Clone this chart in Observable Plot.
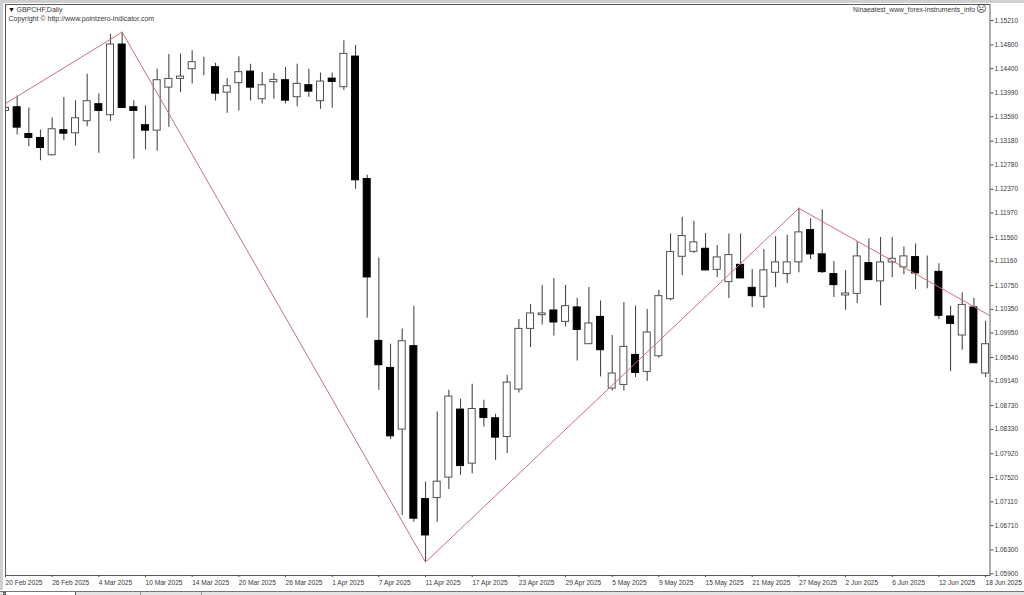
<!DOCTYPE html>
<html><head><meta charset="utf-8">
<script src="https://cdn.jsdelivr.net/npm/d3@7"></script>
<script src="https://cdn.jsdelivr.net/npm/@observablehq/plot@0.6"></script>
<style>
html,body{margin:0;padding:0;background:#fff;overflow:hidden}
#wrap{position:relative;width:1024px;height:595px}
svg{display:block;background:transparent}
.c{position:absolute}
</style></head><body><div id="wrap">
<div class="c" style="left:0;top:0;width:1024px;height:3px;background:#cfcfcf"></div>
<div class="c" style="left:0;top:0;width:3px;height:590px;background:#cfcfcf"></div>
<div class="c" style="left:0;top:591px;width:1024px;height:4px;background:#e4e4e4"></div>
<div class="c" style="left:0;top:591px;width:1024px;height:1px;background:#777"></div>
<div class="c" style="left:3px;top:592px;width:72px;height:3px;background:#fff"></div>
<div class="c" style="left:3px;top:592px;width:3px;height:3px;border:1px solid #555;box-sizing:border-box"></div>
<div class="c" style="left:75px;top:592px;width:1px;height:3px;background:#555"></div>
<div class="c" style="left:140px;top:592px;width:1px;height:3px;background:#999"></div>
<div class="c" style="left:201px;top:592px;width:1px;height:3px;background:#999"></div>
</div>
<script>
const symbol = "GBPCHF,Daily";
const copyright = "Copyright © http://www.pointzero-indicator.com";
const account = "Ninaeatest_www_forex-instruments_info";
const priceTicks = [1.15210,1.14800,1.14400,1.13990,1.13590,1.13180,1.12780,1.12370,1.11970,1.11560,1.11160,1.10750,1.10350,1.09950,1.09540,1.09140,1.08730,1.08330,1.07920,1.07520,1.07110,1.06710,1.06300,1.05900];
const dateLabels = ["20 Feb 2025","26 Feb 2025","4 Mar 2025","10 Mar 2025","14 Mar 2025","20 Mar 2025","26 Mar 2025","1 Apr 2025","7 Apr 2025","11 Apr 2025","17 Apr 2025","23 Apr 2025","29 Apr 2025","5 May 2025","9 May 2025","15 May 2025","21 May 2025","27 May 2025","2 Jun 2025","6 Jun 2025","12 Jun 2025","18 Jun 2025"];
const open = [1.13689,1.13751,1.13301,1.13234,1.12943,1.13364,1.13313,1.13515,1.13802,1.13616,1.14806,1.13751,1.13448,1.13357,1.14081,1.14228,1.14391,1.14413,1.14425,1.13997,1.14156,1.14351,1.13886,1.14172,1.14206,1.13920,1.14122,1.13852,1.14233,1.14088,1.14604,1.12543,1.09819,1.09364,1.08326,1.09730,1.07157,1.07174,1.07518,1.08663,1.07753,1.08673,1.08517,1.08202,1.09000,1.10021,1.10252,1.10331,1.10139,1.10382,1.09763,1.10223,1.09017,1.09078,1.09583,1.09297,1.09561,1.10521,1.11234,1.11318,1.11369,1.11015,1.10808,1.11099,1.10712,1.10560,1.10965,1.10943,1.11140,1.11684,1.11275,1.10943,1.10584,1.10611,1.11128,1.10820,1.11140,1.11056,1.11229,1.10981,1.10981,1.10230,1.09910,1.10382,1.09270];
const close = [1.13739,1.13408,1.13234,1.13065,1.13381,1.13306,1.13566,1.13852,1.13689,1.14806,1.13739,1.13689,1.13357,1.14206,1.14228,1.14267,1.14509,1.14413,1.13980,1.14105,1.14341,1.14081,1.14122,1.14211,1.13862,1.14144,1.14014,1.14183,1.14177,1.14649,1.12521,1.10887,1.09409,1.08213,1.09814,1.06827,1.06545,1.07450,1.08882,1.07713,1.08673,1.08522,1.08191,1.09118,1.10021,1.10281,1.10281,1.10129,1.10404,1.10004,1.10112,1.09662,1.09270,1.09718,1.09280,1.09960,1.10572,1.11313,1.11583,1.11477,1.11005,1.11224,1.11263,1.10870,1.10572,1.11005,1.11140,1.11140,1.11645,1.11275,1.10976,1.10757,1.10617,1.11241,1.10842,1.11140,1.11200,1.11241,1.10954,1.10981,1.10240,1.10105,1.10425,1.09443,1.09763];
const high = [1.13908,1.13942,1.13739,1.13369,1.13571,1.13913,1.13862,1.14307,1.13975,1.14981,1.15015,1.13862,1.13778,1.14391,1.14637,1.14649,1.14700,1.14594,1.14493,1.14233,1.14599,1.14476,1.14334,1.14317,1.14418,1.14476,1.14391,1.14329,1.14329,1.14868,1.14789,1.12606,1.11212,1.09763,1.10021,1.10404,1.07443,1.08623,1.08988,1.08837,1.09089,1.08820,1.08584,1.09236,1.10179,1.10432,1.10752,1.10870,1.10752,1.10538,1.10719,1.10493,1.09910,1.10466,1.10404,1.10348,1.10673,1.11617,1.11898,1.11831,1.11628,1.11426,1.11617,1.11617,1.11022,1.11359,1.11571,1.11595,1.12050,1.11874,1.12021,1.11157,1.11005,1.11487,1.11532,1.11561,1.11561,1.11398,1.11448,1.11246,1.11116,1.10404,1.10628,1.10533,1.10151];
const low = [1.13621,1.13285,1.13087,1.12852,1.12931,1.13189,1.13099,1.13424,1.12976,1.13515,1.13739,1.12875,1.13032,1.13010,1.13414,1.13997,1.14144,1.14279,1.13857,1.13650,1.13689,1.13857,1.13807,1.13886,1.13807,1.13761,1.13920,1.13718,1.13734,1.14031,1.12370,1.10201,1.08988,1.08158,1.06882,1.06769,1.06096,1.06769,1.07320,1.07556,1.07585,1.08370,1.07809,1.07922,1.08943,1.09708,1.10088,1.09903,1.10055,1.09482,1.09763,1.09212,1.08977,1.08977,1.09202,1.09135,1.09527,1.10493,1.10914,1.11291,1.11005,1.10887,1.10533,1.10870,1.10382,1.10370,1.10719,1.10786,1.10965,1.11190,1.10954,1.10550,1.10336,1.10449,1.10842,1.10409,1.10880,1.10931,1.10685,1.10695,1.10179,1.09303,1.09662,1.09443,1.09202];
const zigzagBar = [0,10,36,68,84.34];
const zigzagPrice = [1.13812,1.15015,1.06096,1.12050,1.10247];

const rows = d3.range(open.length).map(i => ({i, open: open[i], close: close[i], high: high[i], low: low[i]}));
const zig = zigzagBar.map((b, k) => ({b, p: zigzagPrice[k]}));
const xTicks = dateLabels.map((_, k) => k * 4);
const ink = "#383838";

const chart = Plot.plot({
  width: 1024, height: 591,
  marginLeft: 5, marginRight: 34.5, marginTop: 4, marginBottom: 16,
  style: {fontFamily: '"Liberation Sans", Arial, sans-serif', fontSize: "6.6px", background: "transparent", color: ink},
  x: {type: "linear", domain: [0, 84.38], label: null},
  y: {type: "linear", domain: [1.05871, 1.15480], label: null},
  color: {type: "identity"},
  marks: [
    Plot.ruleX(rows, {x: "i", y1: "low", y2: "high", stroke: "#4a4a4a", strokeWidth: 1.1, clip: "frame"}),
    Plot.rect(rows, {x1: d => d.i - 0.3, x2: d => d.i + 0.3, y1: "open", y2: "close",
      fill: d => d.close < d.open ? "#000" : "#fff", stroke: d => d.close < d.open ? "#000" : "#505050", strokeWidth: 1, clip: "frame"}),
    Plot.line(zig, {x: "b", y: "p", stroke: "#c4727a", strokeWidth: 1, clip: "frame"}),
    Plot.frame({stroke: "#5a5a5a", strokeWidth: 1}),
    Plot.axisY({anchor: "right", ticks: priceTicks, tickFormat: d3.format(".5f"), tickSize: 3, tickPadding: 1.5, label: null, fontSize: 6.5, stroke: "#444"}),
    Plot.axisX({anchor: "bottom", ticks: xTicks, tickFormat: i => dateLabels[i / 4], tickSize: 2, tickPadding: 3, textAnchor: "start", label: null, fontSize: 6.6, stroke: "#444"}),
    Plot.text(["▼"], {frameAnchor: "top-left", dx: 2.5, dy: 2.5, fontSize: 7, fill: "#111", text: d => d, lineAnchor: "top"}),
    Plot.text([symbol], {frameAnchor: "top-left", dx: 11, dy: 3, fontSize: 7, fill: ink, text: d => d, lineAnchor: "top"}),
    Plot.text([copyright], {frameAnchor: "top-left", dx: 3, dy: 12, fontSize: 7, fill: ink, text: d => d, lineAnchor: "top"}),
    Plot.text([account], {frameAnchor: "top-right", dx: -15, dy: 3, fontSize: 6.8, fill: ink, textAnchor: "end", text: d => d, lineAnchor: "top"}),
    Plot.text(["☹"], {frameAnchor: "top-right", dx: -3.5, dy: 0.5, fontSize: 10, fill: ink, fontFamily: "DejaVu Sans", textAnchor: "end", text: d => d, lineAnchor: "top"})
  ]
});
chart.style.position = "absolute"; chart.style.left = "0"; chart.style.top = "0";
document.getElementById("wrap").appendChild(chart);
</script></body></html>
